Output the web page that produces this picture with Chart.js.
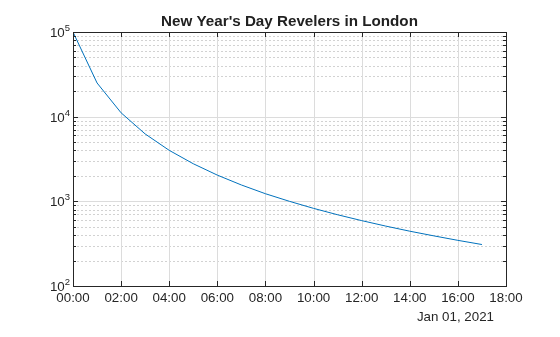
<!DOCTYPE html>
<html>
<head>
<meta charset="utf-8">
<script src="https://cdn.jsdelivr.net/npm/chart.js@4/dist/chart.umd.min.js"></script>
<style>
  html, body { margin: 0; padding: 0; background: #fff; }
  canvas { display: block; }
</style>
</head>
<body>
<canvas id="revelers" width="560" height="337"></canvas>
<script>
// Hours after midnight, Jan 01 2021
const hours = [0, 1, 2, 3, 4, 5, 6, 7, 8, 9, 10, 11, 12, 13, 14, 15, 16, 17];
// Revelers still out
const revelers = [100000, 25000, 11100, 6250, 4000, 2780, 2040, 1560, 1230, 1000, 826, 694, 592, 510, 444, 391, 346, 309];
// Axis ticks
const xTicks = [0, 2, 4, 6, 8, 10, 12, 14, 16, 18];
const xTickLabels = ['00:00', '02:00', '04:00', '06:00', '08:00', '10:00', '12:00', '14:00', '16:00', '18:00'];
const yDecades = [100, 1000, 10000, 100000];
const yExponents = ['2', '3', '4', '5'];
const dateLabel = 'Jan 01, 2021';
const titleText = "New Year's Day Revelers in London";

const FONT = '"Liberation Sans", Arial, sans-serif';
const AXIS = '#262626';

// minor log ticks 2..9 inside each decade
function minorTicks() {
    const out = [];
    for (let d = 0; d < yDecades.length - 1; d++) {
        for (let m = 2; m <= 9; m++) out.push(yDecades[d] * m);
    }
    return out;
}

const matlabAxes = {
    id: 'matlabAxes',
    beforeDatasetsDraw(chart) {
        const ctx = chart.ctx;
        const x = chart.scales.x, y = chart.scales.y;
        const a = chart.chartArea;
        ctx.save();
        // minor y grid (dotted)
        ctx.strokeStyle = '#d2d2d2';
        ctx.lineWidth = 1;
        ctx.setLineDash([2, 2]);
        minorTicks().forEach(v => {
            const py = Math.round(y.getPixelForValue(v)) + 0.5;
            ctx.beginPath(); ctx.moveTo(a.left, py); ctx.lineTo(a.right, py); ctx.stroke();
        });
        ctx.setLineDash([]);
        // major grid
        ctx.strokeStyle = '#dcdcdc';
        yDecades.forEach(v => {
            const py = Math.round(y.getPixelForValue(v)) + 0.5;
            ctx.beginPath(); ctx.moveTo(a.left, py); ctx.lineTo(a.right, py); ctx.stroke();
        });
        xTicks.forEach(v => {
            const px = Math.round(x.getPixelForValue(v)) + 0.5;
            ctx.beginPath(); ctx.moveTo(px, a.top); ctx.lineTo(px, a.bottom); ctx.stroke();
        });
        ctx.restore();
    },
    afterDatasetsDraw(chart) {
        const ctx = chart.ctx;
        const x = chart.scales.x, y = chart.scales.y;
        const a = chart.chartArea;
        ctx.save();
        ctx.strokeStyle = AXIS;
        ctx.lineWidth = 1;
        // box
        ctx.strokeRect(Math.round(a.left) + 0.5, Math.round(a.top) + 0.5,
            Math.round(a.right - a.left), Math.round(a.bottom - a.top));
        // x ticks, inward, bottom and top
        xTicks.forEach(v => {
            const px = Math.round(x.getPixelForValue(v)) + 0.5;
            ctx.beginPath();
            ctx.moveTo(px, a.bottom); ctx.lineTo(px, a.bottom - 5);
            ctx.moveTo(px, a.top); ctx.lineTo(px, a.top + 5);
            ctx.stroke();
        });
        // y ticks, inward, left and right
        yDecades.forEach(v => {
            const py = Math.round(y.getPixelForValue(v)) + 0.5;
            ctx.beginPath();
            ctx.moveTo(a.left, py); ctx.lineTo(a.left + 5, py);
            ctx.moveTo(a.right, py); ctx.lineTo(a.right - 5, py);
            ctx.stroke();
        });
        minorTicks().forEach(v => {
            const py = Math.round(y.getPixelForValue(v)) + 0.5;
            ctx.beginPath();
            ctx.moveTo(a.left, py); ctx.lineTo(a.left + 3, py);
            ctx.moveTo(a.right, py); ctx.lineTo(a.right - 3, py);
            ctx.stroke();
        });
        // x tick labels
        ctx.fillStyle = AXIS;
        ctx.font = '13.33px ' + FONT;
        ctx.textAlign = 'center';
        ctx.textBaseline = 'top';
        xTicks.forEach((v, i) => {
            ctx.fillText(xTickLabels[i], x.getPixelForValue(v), a.bottom + 6);
        });
        ctx.textAlign = 'right';
        ctx.fillText(dateLabel, a.right - 12, a.bottom + 25);
        // y tick labels: 10^n
        yDecades.forEach((v, i) => {
            const py = y.getPixelForValue(v);
            ctx.font = '9.5px ' + FONT;
            const ew = ctx.measureText(yExponents[i]).width;
            ctx.textAlign = 'left';
            ctx.textBaseline = 'alphabetic';
            ctx.fillText(yExponents[i], a.left - 3 - ew, py - 1);
            ctx.font = '13.33px ' + FONT;
            ctx.textAlign = 'right';
            ctx.fillText('10', a.left - 3 - ew, py + 5);
        });
        // title
        ctx.font = 'bold 15.2px ' + FONT;
        ctx.fillStyle = '#212121';
        ctx.textAlign = 'center';
        ctx.textBaseline = 'alphabetic';
        ctx.fillText(titleText, (a.left + a.right) / 2, a.top - 6.5);
        ctx.restore();
    }
};

new Chart(document.getElementById('revelers').getContext('2d'), {
    type: 'line',
    data: {
        datasets: [{
            data: hours.map((h, i) => ({ x: h, y: revelers[i] })),
            borderColor: '#0072BD',
            borderWidth: 1,
            pointRadius: 0,
            tension: 0,
            fill: false
        }]
    },
    options: {
        responsive: false,
        animation: false,
        layout: { padding: { left: 73, right: 54, top: 32, bottom: 51 } },
        plugins: {
            legend: { display: false },
            tooltip: { enabled: false }
        },
        scales: {
            x: { type: 'linear', min: 0, max: 18, display: false },
            y: { type: 'logarithmic', min: 100, max: 100000, display: false }
        }
    },
    plugins: [matlabAxes]
});
</script>
</body>
</html>
